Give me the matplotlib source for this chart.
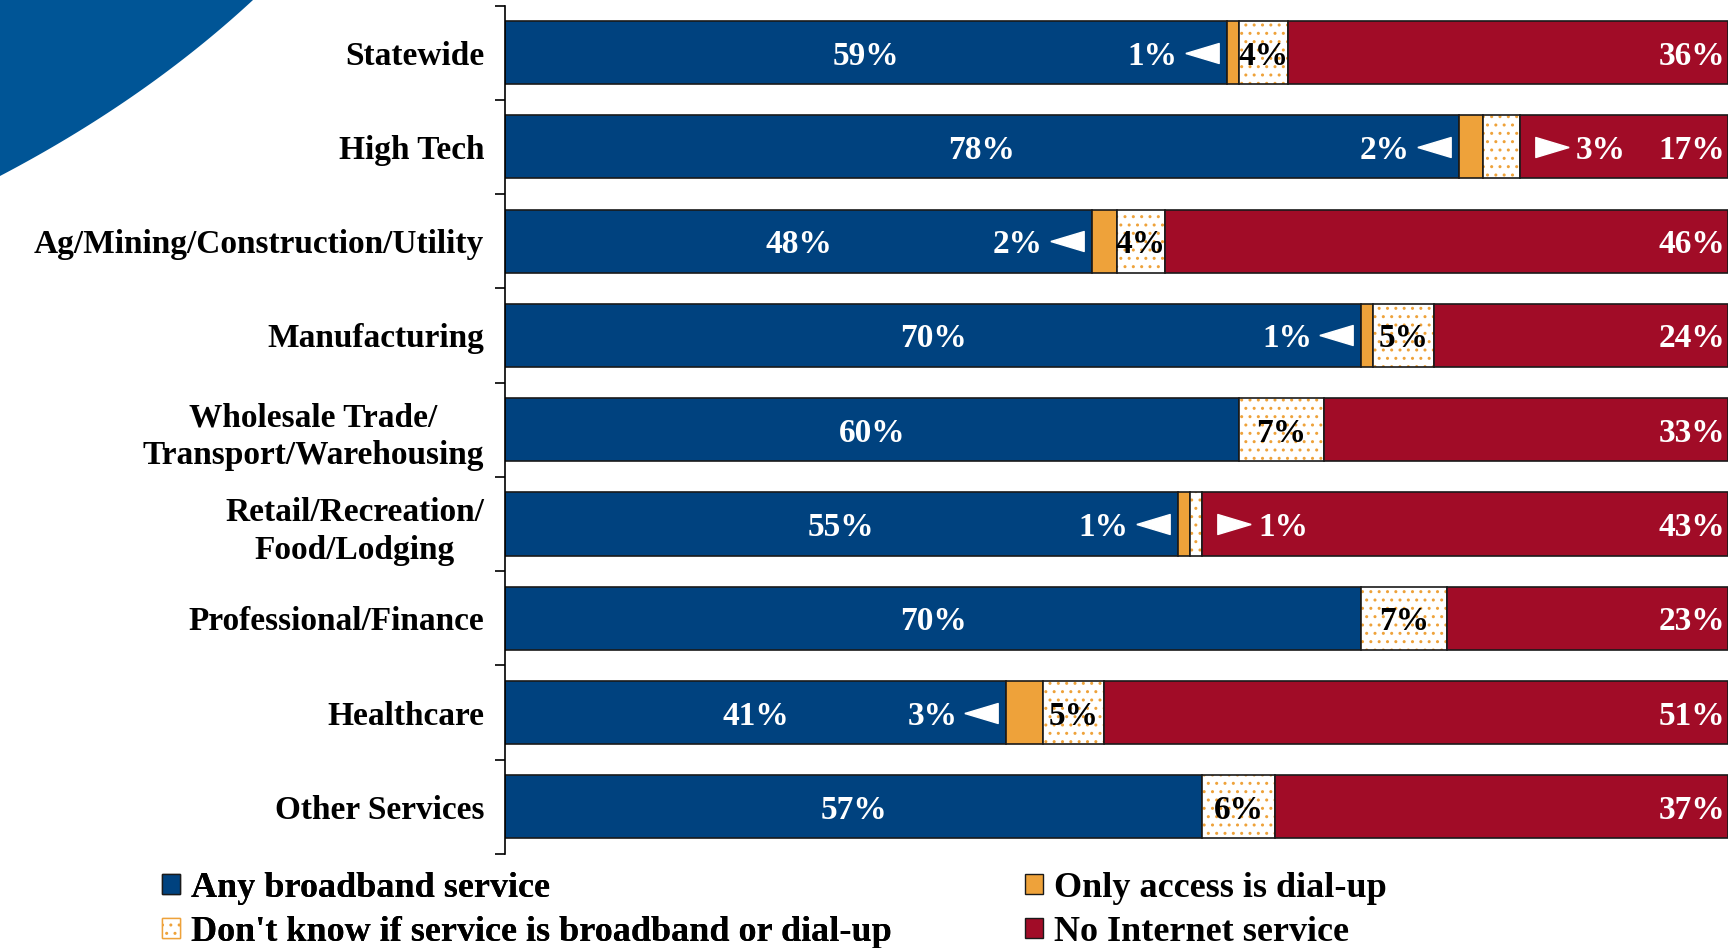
import numpy as np
import matplotlib
matplotlib.use("Agg")
import matplotlib.pyplot as plt
import matplotlib.transforms as mtransforms
from matplotlib.patches import Patch, Polygon
from matplotlib.path import Path

# data (percent of businesses)
categories = [
    "Statewide",
    "High Tech",
    "Ag/Mining/Construction/Utility",
    "Manufacturing",
    "Wholesale Trade/\nTransport/Warehousing",
    "Retail/Recreation/\nFood/Lodging",
    "Professional/Finance",
    "Healthcare",
    "Other Services",
]
broadband = [59, 78, 48, 70, 60, 55, 70, 41, 57]
dialup = [1, 2, 2, 1, 0, 1, 0, 3, 0]
dont_know = [4, 3, 4, 5, 7, 1, 7, 5, 6]
no_internet = [36, 17, 46, 24, 33, 43, 23, 51, 37]

legend_labels = [
    "Any broadband service",
    "Don't know if service is broadband or dial-up",
    "Only access is dial-up",
    "No Internet service",
]

BLUE = "#00427f"
ORANGE = "#eea23a"
RED = "#a10c27"
EDGE = "#1a1a1a"
CORNER = "#005596"
FONT = ["Liberation Serif", "DejaVu Sans"]
FS = 24

plt.rcParams["font.family"] = FONT
plt.rcParams["font.weight"] = "bold"
plt.rcParams["hatch.linewidth"] = 1.0

fig = plt.figure(figsize=(17.28, 9.48), dpi=100)

# blue decorative corner, top left (pixel coords from top)
W, H = 1728.0, 948.0
p0, p1, p2 = np.array([253, 0]), np.array([145, 100]), np.array([0, 176])
t = np.linspace(0, 1, 60)[:, None]
curve = (1 - t) ** 2 * p0 + 2 * (1 - t) * t * p1 + t ** 2 * p2
pts = np.vstack([[0, 0], curve])
pts_fig = np.column_stack([pts[:, 0] / W, 1 - pts[:, 1] / H])
fig.patches.append(Polygon(pts_fig, closed=True, transform=fig.transFigure,
                           facecolor=CORNER, edgecolor="none", zorder=0))

ax = fig.add_axes([505 / W, 1 - 854 / H, 1 - 505 / W, (854 - 5.5) / H])

y = np.arange(len(categories))
h = 0.67
bb = np.array(broadband)
du = np.array(dialup)
dk = np.array(dont_know)
ni = np.array(no_internet)

ax.barh(y, bb, height=h, color=BLUE, edgecolor=EDGE, linewidth=1.2)
ax.barh(y, du, left=bb, height=h, color=ORANGE, edgecolor=EDGE, linewidth=1.2)
# dotted segment: hatch drawn in orange, outline drawn separately
ax.barh(y, dk, left=bb + du, height=h, color="white", edgecolor=ORANGE,
        hatch="..", linewidth=0)
ax.barh(y, dk, left=bb + du, height=h, fill=False, edgecolor=EDGE, linewidth=1.2)
ax.barh(y, ni, left=bb + du + dk, height=h, color=RED, edgecolor=EDGE, linewidth=1.2)

# pointer triangles
left_tri = Path([(-1, 0), (1, 0.6), (1, -0.6), (-1, 0)])
right_tri = Path([(1, 0), (-1, 0.6), (-1, -0.6), (1, 0)])


def shifted(dx_px):
    return mtransforms.offset_copy(ax.transData, fig, x=dx_px, y=0, units="dots")


def label(x, yy, s, dx_px, ha, color):
    ax.annotate(s, (x, yy), xytext=(dx_px * 0.72, -2.5), textcoords="offset points",
                ha=ha, va="center", color=color, fontsize=FS, fontweight="bold")


for i in range(len(categories)):
    label(bb[i] / 2, y[i], f"{bb[i]}%", 0, "center", "white")
    label(100, y[i], f"{ni[i]}%", -3, "right", "white")
    if du[i] > 0:
        ax.plot([bb[i]], [y[i]], marker=left_tri, markersize=24, color="white",
                linestyle="none", transform=shifted(-25))
        label(bb[i], y[i], f"{du[i]}%", -49, "right", "white")
    end = bb[i] + du[i] + dk[i]
    if dk[i] >= 4:
        label(end - dk[i] / 2, y[i], f"{dk[i]}%", 0, "center", "black")
    else:
        ax.plot([end], [y[i]], marker=right_tri, markersize=24, color="white",
                linestyle="none", transform=shifted(32))
        label(end, y[i], f"{dk[i]}%", 56, "left", "white")

ax.set_xlim(0, 100)
ax.set_ylim(len(categories) - 0.5, -0.5)

for s in ["top", "right", "bottom"]:
    ax.spines[s].set_visible(False)
ax.spines["left"].set_linewidth(1.2)
ax.xaxis.set_visible(False)

ax.set_yticks(np.arange(len(categories) + 1) - 0.5)
ax.set_yticklabels([])
ax.tick_params(axis="y", which="major", length=7, width=1.2, direction="out")
ax.set_yticks(y, minor=True)
ax.set_yticklabels(categories, minor=True, fontsize=FS, fontweight="bold")
ax.tick_params(axis="y", which="minor", length=0, pad=15)
for lab in ax.get_yticklabels(minor=True):
    lab.set_multialignment("center")
    lab.set_linespacing(1.3)

handles = [
    Patch(facecolor=BLUE, edgecolor=EDGE),
    Patch(facecolor="white", edgecolor=ORANGE, hatch=".."),
    Patch(facecolor=ORANGE, edgecolor=EDGE),
    Patch(facecolor=RED, edgecolor=EDGE),
]
leg_kw = dict(loc="upper left", frameon=False, fontsize=26, handlelength=0.5,
              handleheight=0.5, handletextpad=0.3, labelspacing=0.3,
              borderaxespad=0, borderpad=0)
leg1 = fig.legend(handles[:2], legend_labels[:2],
                  bbox_to_anchor=(162 / W, 1 - 872 / H), **leg_kw)
fig.add_artist(leg1)
fig.legend(handles[2:], legend_labels[2:],
           bbox_to_anchor=(1025 / W, 1 - 872 / H), **leg_kw)

fig.savefig("out.png", dpi=100)
